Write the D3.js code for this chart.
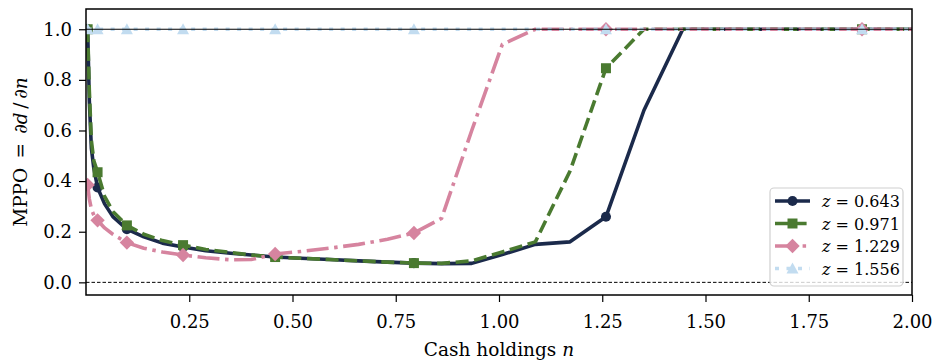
<!DOCTYPE html>
<html>
<head>
<meta charset="utf-8">
<script src="https://cdn.jsdelivr.net/npm/d3@7"></script>
<style>
  html, body { margin: 0; padding: 0; background: #fff; }
  svg { display: block; }
  text { font-family: "DejaVu Serif", "Liberation Serif", serif; fill: #000; }
</style>
</head>
<body>
<svg id="chart" width="933" height="362"></svg>
<script>
// Cash-holdings grid n
const cashGrid = [0.004, 0.008, 0.013, 0.019, 0.028, 0.045, 0.065, 0.099, 0.14, 0.185,
  0.235, 0.29, 0.35, 0.40, 0.458, 0.52, 0.59, 0.66, 0.73, 0.794,
  0.861, 0.934, 1.008, 1.088, 1.172, 1.259, 1.351, 1.445, 1.545, 1.65,
  1.76, 1.879, 2.0];

// Grid points that carry a marker
const markerPoints = [0.004, 0.028, 0.099, 0.235, 0.458, 0.794, 1.259, 1.879];

// Marginal propensity to pay out, one array per productivity level z
const mppoZ0643 = [1.0, 0.72, 0.53, 0.45, 0.375, 0.31, 0.26, 0.21, 0.18, 0.155,
  0.14, 0.125, 0.115, 0.108, 0.10, 0.095, 0.09, 0.085, 0.08, 0.076,
  0.074, 0.075, 0.11, 0.15, 0.16, 0.259, 0.68, 1.0, 1.0, 1.0,
  1.0, 1.0, 1.0];
const mppoZ0971 = [1.0, 0.76, 0.56, 0.48, 0.435, 0.34, 0.28, 0.225, 0.19, 0.165,
  0.147, 0.13, 0.118, 0.108, 0.10, 0.095, 0.09, 0.085, 0.08, 0.076,
  0.075, 0.085, 0.12, 0.16, 0.44, 0.846, 1.0, 1.0, 1.0, 1.0,
  1.0, 1.0, 1.0];
const mppoZ1229 = [0.385, 0.33, 0.29, 0.265, 0.245, 0.215, 0.19, 0.157, 0.135, 0.12,
  0.108, 0.097, 0.089, 0.09, 0.112, 0.122, 0.135, 0.15, 0.17, 0.195,
  0.253, 0.60, 0.94, 1.0, 1.0, 1.0, 1.0, 1.0, 1.0, 1.0,
  1.0, 1.0, 1.0];
const mppoZ1556 = [1.0, 1.0, 1.0, 1.0, 1.0, 1.0, 1.0, 1.0, 1.0, 1.0,
  1.0, 1.0, 1.0, 1.0, 1.0, 1.0, 1.0, 1.0, 1.0, 1.0,
  1.0, 1.0, 1.0, 1.0, 1.0, 1.0, 1.0, 1.0, 1.0, 1.0,
  1.0, 1.0, 1.0];

const seriesLabels = ["0.643", "0.971", "1.229", "1.556"];
const xTicks = [0.25, 0.50, 0.75, 1.00, 1.25, 1.50, 1.75, 2.00];
const yTicks = [0.0, 0.2, 0.4, 0.6, 0.8, 1.0];

const series = [
  { label: seriesLabels[0], values: mppoZ0643, color: "#1b2a4b", dash: null, marker: "circle" },
  { label: seriesLabels[1], values: mppoZ0971, color: "#4a7a30", dash: "13,5.6", marker: "square" },
  { label: seriesLabels[2], values: mppoZ1229, color: "#d6849f", dash: "22,5.6,3.5,5.6", marker: "diamond" },
  { label: seriesLabels[3], values: mppoZ1556, color: "#c2dcf0", dash: "4,7.5", marker: "triangle" }
];

const svg = d3.select("#chart");
const plot = { left: 86, right: 912, top: 9, bottom: 295 };

const x = d3.scaleLinear().domain([0, 2.0]).range([plot.left, plot.right]);
const y = d3.scaleLinear().domain([-0.05, 1.08]).range([plot.bottom, plot.top]);

svg.append("defs").append("clipPath").attr("id", "plot-clip")
  .append("rect")
  .attr("x", plot.left).attr("y", plot.top)
  .attr("width", plot.right - plot.left).attr("height", plot.bottom - plot.top);

// Marker shapes
function markerPath(kind) {
  if (kind === "circle") return d3.symbol(d3.symbolCircle, 80)();
  if (kind === "square") return d3.symbol(d3.symbolSquare, 100)();
  if (kind === "diamond") return "M0,-7.2L7.2,0L0,7.2L-7.2,0Z";
  return "M0,-6L6,5L-6,5Z";
}

// Reference line at zero
svg.append("line")
  .attr("x1", plot.left).attr("x2", plot.right)
  .attr("y1", y(0)).attr("y2", y(0))
  .attr("stroke", "#000").attr("stroke-width", 1).attr("stroke-dasharray", "3.5,2");

const line = d3.line().x((d, i) => x(cashGrid[i])).y(d => y(d));

const gSeries = svg.append("g").attr("clip-path", "url(#plot-clip)");
series.forEach(s => {
  gSeries.append("path")
    .attr("d", line(s.values))
    .attr("fill", "none")
    .attr("stroke", s.color)
    .attr("stroke-width", 3.6)
    .attr("stroke-linejoin", "round")
    .attr("stroke-dasharray", s.dash);
  const pts = cashGrid.map((n, i) => ({ n, v: s.values[i] }))
    .filter(p => markerPoints.includes(p.n));
  gSeries.selectAll(null).data(pts).enter().append("path")
    .attr("d", markerPath(s.marker))
    .attr("transform", p => `translate(${x(p.n)},${y(p.v)})`)
    .attr("fill", s.color);
});

// Solid line at full payout
svg.append("line")
  .attr("x1", plot.left).attr("x2", plot.right)
  .attr("y1", y(1)).attr("y2", y(1))
  .attr("stroke", "#000").attr("stroke-width", 1.2);

// Axes
const xAxis = d3.axisBottom(x).tickValues(xTicks).tickFormat(d3.format(".2f"))
  .tickSizeInner(7).tickSizeOuter(0).tickPadding(13);
const yAxis = d3.axisLeft(y).tickValues(yTicks).tickFormat(d3.format(".1f"))
  .tickSizeInner(7).tickSizeOuter(0).tickPadding(7);

const gx = svg.append("g").attr("transform", `translate(0,${plot.bottom})`).call(xAxis);
const gy = svg.append("g").attr("transform", `translate(${plot.left},0)`).call(yAxis);
[gx, gy].forEach(g => {
  g.select(".domain").remove();
  g.selectAll(".tick line").attr("stroke", "#000").attr("stroke-width", 1.2);
  g.selectAll(".tick text").attr("font-size", 18).attr("fill", "#000");
});

// Frame
svg.append("rect")
  .attr("x", plot.left).attr("y", plot.top)
  .attr("width", plot.right - plot.left).attr("height", plot.bottom - plot.top)
  .attr("fill", "none").attr("stroke", "#000").attr("stroke-width", 1.5);

// Axis titles
const xt = svg.append("text")
  .attr("x", (plot.left + plot.right) / 2).attr("y", 356)
  .attr("text-anchor", "middle").attr("font-size", 18.5);
xt.append("tspan").text("Cash holdings ");
xt.append("tspan").attr("font-style", "italic").text("n");

const yt = svg.append("text")
  .attr("transform", `translate(27,${(plot.top + plot.bottom) / 2}) rotate(-90)`)
  .attr("text-anchor", "middle").attr("font-size", 18.5);
yt.append("tspan").text("MPPO\u2002=\u2002∂");
yt.append("tspan").attr("font-style", "italic").text("d");
yt.append("tspan").text("\u2009/\u2009∂");
yt.append("tspan").attr("font-style", "italic").text("n");

// Legend
const lg = svg.append("g");
lg.append("rect")
  .attr("x", 770).attr("y", 188).attr("width", 133).attr("height", 98)
  .attr("rx", 4).attr("fill", "#fff").attr("fill-opacity", 0.8)
  .attr("stroke", "#d0d0d0").attr("stroke-width", 1.2);
series.forEach((s, i) => {
  const cy = 201 + i * 22.5;
  lg.append("line")
    .attr("x1", 775).attr("x2", 810).attr("y1", cy).attr("y2", cy)
    .attr("stroke", s.color).attr("stroke-width", 3.6)
    .attr("stroke-dasharray", s.dash);
  lg.append("path").attr("d", markerPath(s.marker))
    .attr("transform", `translate(792.5,${cy})`).attr("fill", s.color);
  const t = lg.append("text").attr("x", 822).attr("y", cy + 6).attr("font-size", 16);
  t.append("tspan").attr("font-style", "italic").text("z");
  t.append("tspan").text(" = " + s.label);
});
</script>
</body>
</html>
